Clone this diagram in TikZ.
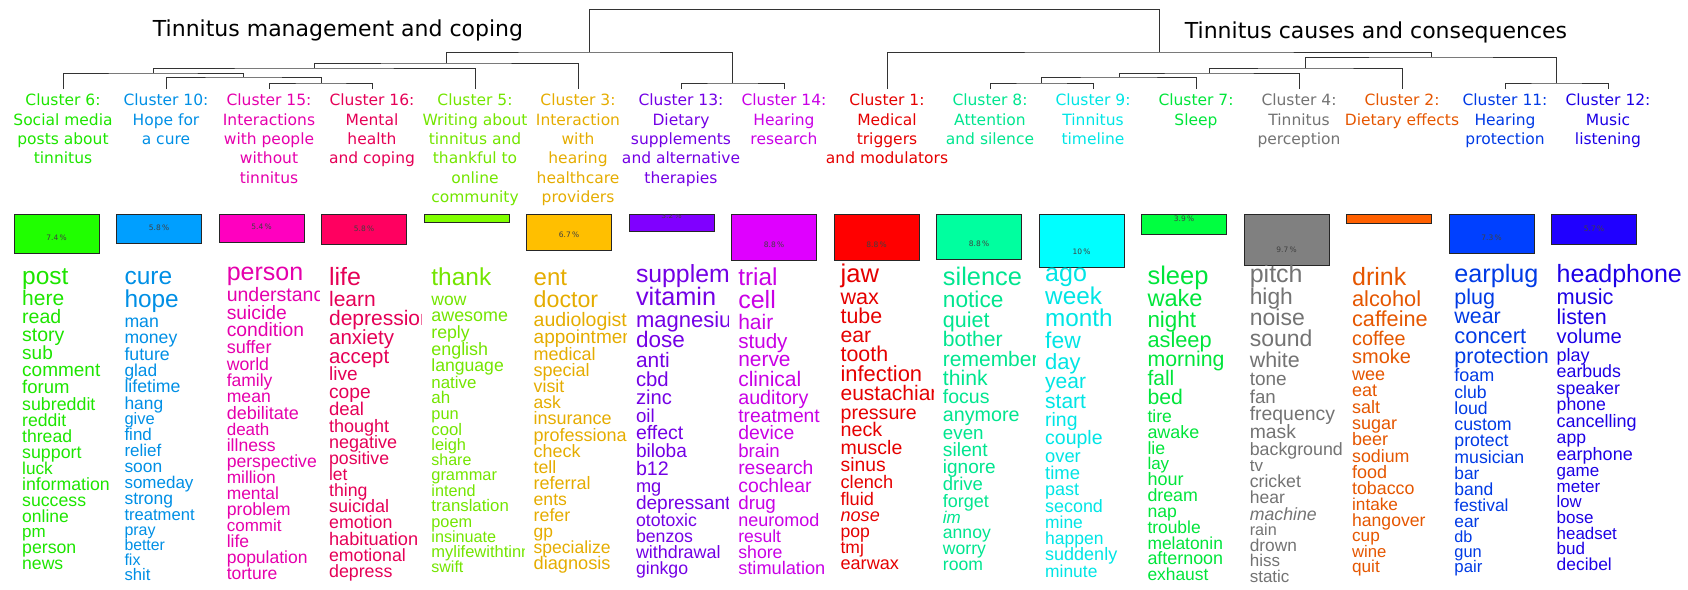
\documentclass[tikz,border=0pt]{standalone}
\usepackage{fontspec}
\setmainfont{DejaVu Sans}
\newfontfamily\wordfont{Liberation Sans}

% 颜色
\definecolor{c1}{HTML}{FF0000}
\definecolor{c2}{HTML}{FF6000}
\definecolor{c3}{HTML}{FFBF00}
\definecolor{c4}{HTML}{808080}
\definecolor{c5}{HTML}{80FF00}
\definecolor{c6}{HTML}{20FF00}
\definecolor{c7}{HTML}{00FF40}
\definecolor{c8}{HTML}{00FF9F}
\definecolor{c9}{HTML}{00FFFF}
\definecolor{c10}{HTML}{009FFF}
\definecolor{c11}{HTML}{0040FF}
\definecolor{c12}{HTML}{2000FF}
\definecolor{c13}{HTML}{8000FF}
\definecolor{c14}{HTML}{DF00FF}
\definecolor{c15}{HTML}{FF00BF}
\definecolor{c16}{HTML}{FF0060}

\tikzset{
  dend/.style={draw=gray!40!black, line width=1pt},
  cname/.style={align=center, anchor=north, inner sep=0pt, font=\fontsize{15.5}{19.3}\selectfont},
  toptitle/.style={anchor=base, inner sep=0pt, font=\fontsize{22}{26}\selectfont},
  pbox/.style={draw=gray!30!black, line width=0.8pt, anchor=north, minimum width=85pt, inner sep=0pt},
  pct/.style={inner sep=0pt, text=black!75, font=\fontsize{7.5}{8}\selectfont},
  word/.style={anchor=mid west, inner sep=0pt},
}

% 词列: id, x, 颜色, 首行y, 行距系数, 裁剪宽度, 词/字号
\newcommand{\wordcol}[7]{%
  \begin{scope}
    \clip (#2-8,256) rectangle (#2+#6,589);
    \xdef\wy{#4}\xdef\ws{0}
    \foreach \w/\s [count=\k] in {#7}{%
      \pgfmathsetmacro\yy{\k==1 ? \wy : \wy+#5*(\ws+\s)/2}
      \xdef\wy{\yy}\xdef\ws{\s}
      \node[word, text=#3!90!black, font=\wordfont\fontsize{\s}{\s}\selectfont] (w#1-\k) at (#2,\yy) {\w};
    }
  \end{scope}}

\begin{document}
\begin{tikzpicture}[x=1pt, y=-1pt]
\useasboundingbox (0,0) rectangle (1688,589);

% 标题
\node[toptitle] (lefttitle) at (338,36) {Tinnitus management and coping};
\node[toptitle] (righttitle) at (1376,38.5) {Tinnitus causes and consequences};

% 叶子
\foreach \c [count=\i from 0] in {6,10,15,16,5,3,13,14,1,8,9,7,4,2,11,12}
  \coordinate (t\c) at (63+103*\i,89);

% 树状图
\coordinate (m15-16) at (321,83);
\coordinate (m10) at (243.5,77);
\coordinate (m6) at (153,73);
\coordinate (m5) at (314,68);
\coordinate (m3) at (446,63);
\coordinate (m13-14) at (732.5,83);
\coordinate (mleft) at (589,52);
\coordinate (m8-9) at (1041.5,83);
\coordinate (m7) at (1119,77);
\coordinate (m4) at (1209,73);
\coordinate (m2) at (1305.5,68);
\coordinate (m11-12) at (1556.5,83);
\coordinate (m11) at (1431,57);
\coordinate (mright) at (1159,52);
\coordinate (root) at (874,9.3);
\draw[dend] (t15) |- (m15-16) -| (t16);
\draw[dend] (t10) |- (m10) -| (m15-16);
\draw[dend] (t6) |- (m6) -| (m10);
\draw[dend] (m6) |- (m5) -| (t5);
\draw[dend] (m5) |- (m3) -| (t3);
\draw[dend] (t13) |- (m13-14) -| (t14);
\draw[dend] (m3) |- (mleft) -| (m13-14);
\draw[dend] (t8) |- (m8-9) -| (t9);
\draw[dend] (m8-9) |- (m7) -| (t7);
\draw[dend] (m7) |- (m4) -| (t4);
\draw[dend] (m4) |- (m2) -| (t2);
\draw[dend] (t11) |- (m11-12) -| (t12);
\draw[dend] (m2) |- (m11) -| (m11-12);
\draw[dend] (t1) |- (mright) -| (m11);
\draw[dend] (mleft) |- (root) -| (mright);

% 类名
\foreach \c/\txt in {
  6/{Cluster 6:\\Social media\\posts about\\tinnitus},
  10/{Cluster 10:\\Hope for\\a cure},
  15/{Cluster 15:\\Interactions\\with people\\without\\tinnitus},
  16/{Cluster 16:\\Mental\\health\\and coping},
  5/{Cluster 5:\\Writing about\\tinnitus and\\thankful to\\online\\community},
  3/{Cluster 3:\\Interaction\\with\\hearing\\healthcare\\providers},
  13/{Cluster 13:\\Dietary\\supplements\\and alternative\\therapies},
  14/{Cluster 14:\\Hearing\\research},
  1/{Cluster 1:\\Medical\\triggers\\and modulators},
  8/{Cluster 8:\\Attention\\and silence},
  9/{Cluster 9:\\Tinnitus\\timeline},
  7/{Cluster 7:\\Sleep},
  4/{Cluster 4:\\Tinnitus\\perception},
  2/{Cluster 2:\\Dietary effects},
  11/{Cluster 11:\\Hearing\\protection},
  12/{Cluster 12:\\Music\\listening}}
  \node[cname, text=c\c!90!black] (lab\c) at ([yshift=-5pt]t\c) {\txt};

% 比例框
\foreach \c/\h [count=\i from 0] in {6/39,10/29,15/28,16/30,5/8,3/36,13/17,14/46,1/46,8/45,9/53,7/20,4/51,2/9,11/39,12/30}
  \node[pbox, fill=c\c, minimum height=\h pt] (box\c) at (56.5+102.5*\i,214) {};
\foreach \c/\p in {6/7.4,10/5.8,15/5.4,16/5.8,3/6.7,13/3.2,14/8.8,1/8.8,8/8.8,9/10,7/3.9,4/9.7,11/7.3,12/5.7}{
  \begin{scope}
    \clip (box\c.north west) rectangle (box\c.south east);
    \node[pct] (p\c) at ([yshift=16pt]box\c.south) {\p\,\%};
  \end{scope}}

% 词
\wordcol{6}{22}{c6}{282}{0.91}{93}{post/24.5,here/21,read/19.5,story/19.5,sub/19,comment/19,forum/18.5,subreddit/17.8,reddit/17.6,thread/17.6,support/17.8,luck/17.2,information/17.7,success/17.7,online/17.5,pm/17,person/17.7,news/17.6}
\wordcol{10}{124.3}{c10}{282}{0.933}{93}{cure/24.5,hope/24.4,man/17.7,money/17.6,future/17.7,glad/17.3,lifetime/17.7,hang/17.4,give/16.5,find/17,relief/17,soon/17.4,someday/17,strong/17.5,treatment/16.6,pray/16,better/15.8,fix/16,shit/16.7}
\wordcol{15}{226.6}{c15}{278}{0.92}{93}{person/25,understand/19.5,suicide/19.3,condition/19.3,suffer/18,world/17.7,family/17.5,mean/17.6,debilitate/18,death/17,illness/17.6,perspective/17.6,million/17.3,mental/17.4,problem/17.7,commit/17,life/17.5,population/17.5,torture/17.5}
\wordcol{16}{328.9}{c16}{283}{0.908}{93}{life/25,learn/21,depression/21,anxiety/20.5,accept/20.4,live/19,cope/19.2,deal/18.5,thought/18,negative/18,positive/17.7,let/17.4,thing/17.7,suicidal/18,emotion/17.8,habituation/18.2,emotional/17.7,depress/17.8}
\wordcol{5}{431.2}{c5}{283}{0.936}{93}{thank/24.5,wow/17.5,awesome/17.9,reply/17.7,english/17.9,language/17.6,native/16.9,ah/17,pun/16.4,cool/16.7,leigh/16.4,share/16,grammar/16.4,intend/16.2,translation/16.8,poem/16.3,insinuate/16.2,mylifewithtinnitus/16.5,swift/16}
\wordcol{3}{533.5}{c3}{283}{0.904}{93}{ent/24,doctor/23.2,audiologist/19.5,appointment/19,medical/18,special/18,visit/17.8,ask/17.5,insurance/18,professional/18,check/17.9,tell/17.7,referral/18,ents/17.6,refer/17.8,gp/17.4,specialize/17.5,diagnosis/18.2}
\wordcol{13}{635.8}{c13}{280}{0.913}{93}{supplement/24.8,vitamin/25.3,magnesium/22,dose/22.5,anti/20.9,cbd/20.3,zinc/20.2,oil/18.7,effect/19.5,biloba/19.1,b12/19.6,mg/18.2,depressant/19.1,ototoxic/17.7,benzos/17.7,withdrawal/17.9,ginkgo/17.7}
\wordcol{14}{738.1}{c14}{283}{0.91}{93}{trial/24.4,cell/25,hair/21,study/20.6,nerve/20.9,clinical/21,auditory/19.7,treatment/19.3,device/19.4,brain/18.7,research/19.3,cochlear/19.4,drug/18.8,neuromod/18,result/17.5,shore/17.7,stimulation/18.2}
\wordcol{1}{840.4}{c1}{280}{0.902}{93}{jaw/25.6,wax/21.6,tube/21.4,ear/21.2,tooth/21.4,infection/21.9,eustachian/21,pressure/19.6,neck/19.7,muscle/19.5,sinus/19.3,clench/18.2,fluid/18.2,{\itshape nose}/18.1,pop/17.6,tmj/17.5,earwax/18.1}
\wordcol{8}{942.7}{c8}{283}{0.908}{93}{silence/25.4,notice/22.7,quiet/21.5,bother/21.1,remember/21,think/21.2,focus/19.5,anymore/19.7,even/18.8,silent/19.2,ignore/19,drive/18.5,forget/18,{\itshape im}/17,annoy/17.6,worry/17.6,room/17.6}
\wordcol{9}{1045}{c9}{279}{0.92}{93}{ago/25,week/24.3,month/24.3,few/22.9,day/22,year/21,start/21,ring/19.4,couple/19.5,over/18.3,time/18.5,past/18,second/17.9,mine/17.4,happen/17.5,suddenly/18,minute/17.4}
\wordcol{7}{1147.3}{c7}{282}{0.9}{93}{sleep/25.5,wake/23.6,night/22.4,asleep/21.8,morning/21.3,fall/21,bed/21.2,tire/17.5,awake/17.9,lie/17.7,lay/17,hour/18,dream/17.8,nap/17.6,trouble/17.4,melatonin/17.4,afternoon/17.9,exhaust/17.4}
\wordcol{4}{1249.6}{c4}{280}{0.92}{93}{pitch/25,high/22.8,noise/23,sound/23,white/21.4,tone/19,fan/18.7,frequency/19.4,mask/19.3,background/17.8,tv/17,cricket/17.7,hear/17.5,{\itshape machine}/17.7,rain/16.2,drown/17.3,hiss/17,static/17}
\wordcol{2}{1351.9}{c2}{283}{0.906}{93}{drink/25,alcohol/21.8,caffeine/21.7,coffee/19.8,smoke/20,wee/18,eat/18,salt/18,sugar/18,beer/18,sodium/17.8,food/18,tobacco/17.8,intake/17.2,hangover/17.6,cup/17.2,wine/16.7,quit/17.2}
\wordcol{11}{1454.2}{c11}{280}{0.918}{93}{earplug/25.2,plug/21.5,wear/21.4,concert/21.9,protection/21.5,foam/18,club/17.6,loud/17.6,custom/17.8,protect/17.7,musician/17.7,bar/17.3,band/17.5,festival/17.4,ear/17.3,db/16.2,gun/16.4,pair/16.8}
\wordcol{12}{1556.5}{c12}{280}{0.925}{140}{headphone/25,music/21.8,listen/21.5,volume/20.2,play/18,earbuds/17.8,speaker/17.8,phone/17.7,cancelling/18,app/17.6,earphone/18,game/17,meter/17,low/16.7,bose/17,headset/16.9,bud/17,decibel/17.4}
\end{tikzpicture}
\end{document}
